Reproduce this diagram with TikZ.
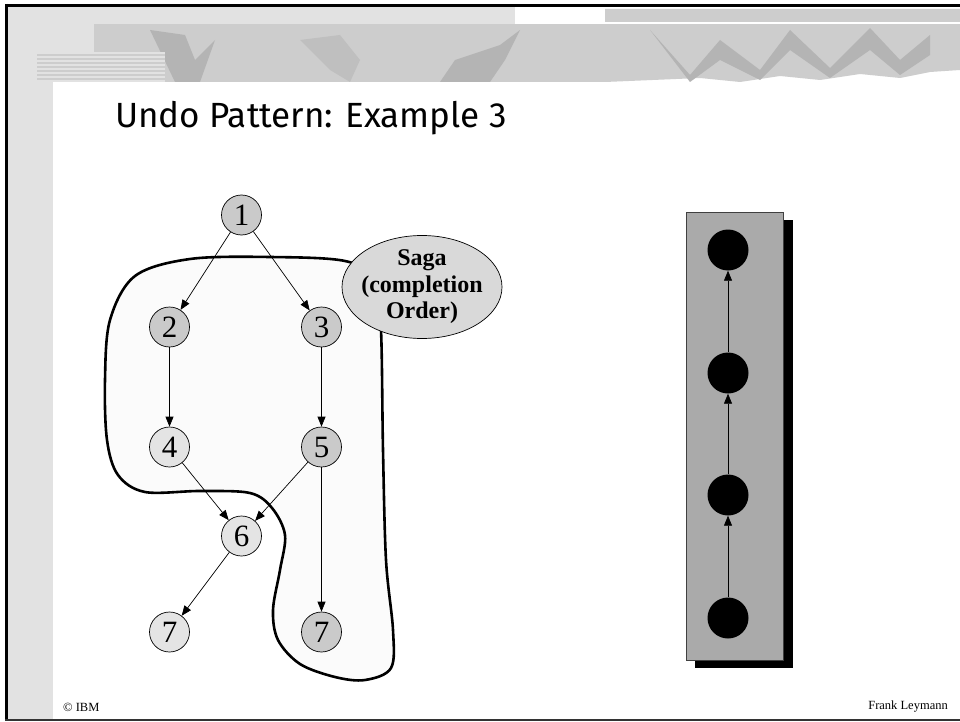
\documentclass[tikz,border=0pt]{standalone}
\usepackage{fontspec}
\setmainfont{Liberation Serif}
\newfontfamily\titlefont{Fira Sans}
\usetikzlibrary{arrows.meta,shapes.geometric}
\definecolor{nodedark}{HTML}{CACACA}
\definecolor{nodelight}{HTML}{E4E4E4}
\definecolor{sagafill}{HTML}{D9D9D9}
\definecolor{panelfill}{HTML}{AAAAAA}
\definecolor{texlight}{HTML}{E2E2E2}
\definecolor{texmid}{HTML}{CDCDCD}
\definecolor{texdark}{HTML}{B4B4B4}
\definecolor{blobfill}{HTML}{FBFBFB}
\tikzset{
  num/.style={circle,draw=black,line width=0.7pt,minimum size=40pt,inner sep=0pt,
    font=\fontsize{31}{32}\selectfont},
  dk/.style={num,fill=nodedark},
  lt/.style={num,fill=nodelight},
  blk/.style={circle,fill=black,minimum size=41pt,inner sep=0pt},
  conn/.style={line width=0.7pt,-{Triangle[length=10pt,width=8pt]}},
  foot/.style={font=\fontsize{12.5}{14}\selectfont,inner sep=0pt}
}
\begin{document}
\begin{tikzpicture}[x=1pt,y=-1pt]
\useasboundingbox (0,0) rectangle (960,722);
\fill[white] (0,0) rectangle (960,722);
% ---- textured slide background (approximation)
\fill[texlight] (8,7) rectangle (53,720);
\fill[texlight] (8,7) rectangle (515,24);
\fill[texlight] (8,7) rectangle (94,52);
\fill[texmid] (94,24) rectangle (605,82);
\fill[texdark] (150,30) -- (175,82) -- (200,82) -- (215,40) -- (195,60) -- (185,35) -- cycle;
\fill[texdark] (440,82) -- (455,60) -- (500,45) -- (520,30) -- (505,60) -- (490,82) -- cycle;
\fill[texdark!85!white] (300,40) -- (330,70) -- (350,82) -- (360,60) -- (340,35) -- cycle;
\fill[texlight] (37,52) rectangle (165,82);
\foreach \yy in {54,58,62,66,70,74,78}{
  \fill[texmid] (37,\yy) rectangle (165,\yy+2);
}
\fill[texmid] (605,9) -- (960,9) -- (960,70) -- (930,72) -- (900,78) -- (860,74) -- (820,80) -- (780,76) -- (740,82) -- (700,78) -- (605,82) -- cycle;
\fill[texdark] (650,30) -- (690,75) -- (720,40) -- (760,70) -- (790,30) -- (830,68) -- (870,28) -- (900,60) -- (930,35) -- (930,55) -- (900,75) -- (870,50) -- (830,78) -- (790,50) -- (760,80) -- (720,60) -- (690,82) -- cycle;
\fill[white] (605,22) rectangle (960,24);
% ---- frame
\draw[black,line width=3pt] (5,5.5) -- (960,5.5);
\draw[black,line width=3pt] (6.5,4) -- (6.5,721);
\draw[black!80,line width=2pt] (5,720) -- (960,720);
% ---- title
\node[anchor=base west,inner sep=0pt,font=\titlefont\fontsize{35}{40}\selectfont] (title) at (115,128) {Undo Pattern: Example 3};
% ---- saga region
\draw[line width=2.6pt,fill=blobfill] plot[smooth cycle,tension=0.55] coordinates {
 (190,259) (270,257) (345,261) (375,280) (381,330) (383,450) (386,560) (393,630)
 (391,668) (365,680) (335,677) (300,664) (278,640) (273,610) (280,570) (285,535)
 (272,508) (250,493) (200,491) (145,492) (118,475) (107,440) (105,380) (110,320) (135,276)};
% ---- nodes
\node[dk] (n1) at (241.5,215) {1};
\node[dk] (n2) at (169.5,327) {2};
\node[dk] (n3) at (321.5,327) {3};
\node[lt] (n4) at (169.5,447) {4};
\node[dk] (n5) at (321.5,447) {5};
\node[lt] (n6) at (241.5,536) {6};
\node[lt] (n7a) at (169.5,632) {7};
\node[dk] (n7b) at (321.5,632) {7};
\draw[conn] (n1) -- (n2);
\draw[conn] (n1) -- (n3);
\draw[conn] (n2) -- (n4);
\draw[conn] (n3) -- (n5);
\draw[conn] (n4) -- (n6);
\draw[conn] (n5) -- (n6);
\draw[conn] (n5) -- (n7b);
\draw[conn] (n6) -- (n7a);
% ---- saga label
\node[ellipse,draw=black,line width=0.7pt,fill=sagafill,minimum width=160pt,minimum height=103pt,inner sep=0pt] (saga) at (422,287) {};
\node[align=center,inner sep=0pt,font=\bfseries\fontsize{24}{26.5}\selectfont] (sagatext) at (saga.center) {Saga\\(completion\\Order)};
% ---- right panel
\fill[black] (695,220) rectangle (793,668);
\draw[fill=panelfill,draw=black!75,line width=0.7pt] (686,212) rectangle (783,660);
\node[blk] (b1) at (728,250) {};
\node[blk] (b2) at (728,373) {};
\node[blk] (b3) at (728,495) {};
\node[blk] (b4) at (728,618) {};
\draw[conn] (b4) -- (b3);
\draw[conn] (b3) -- (b2);
\draw[conn] (b2) -- (b1);
% ---- footer
\node[foot,anchor=west] (ibm) at (63,707) {\textcopyright\ IBM};
\node[foot,anchor=east] (author) at (948,707) {Frank Leymann};
\end{tikzpicture}
\end{document}
